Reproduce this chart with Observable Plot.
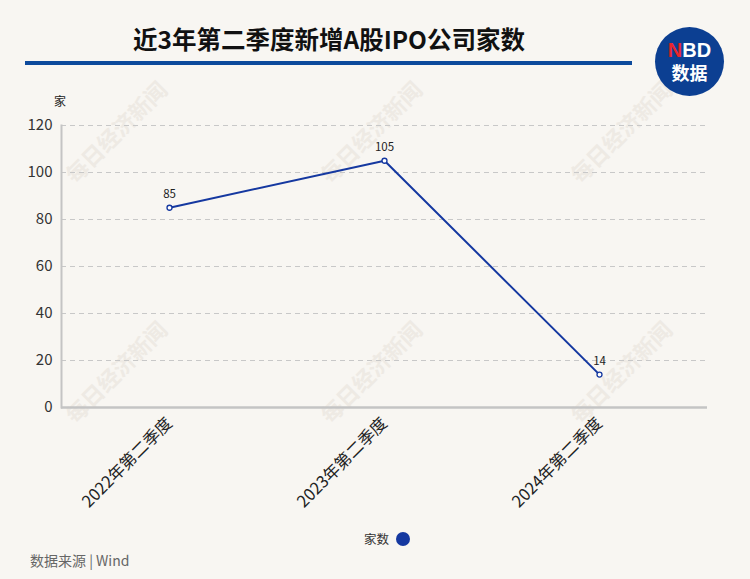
<!DOCTYPE html>
<html><head><meta charset="utf-8">
<script src="https://cdn.jsdelivr.net/npm/d3@7"></script>
<script src="https://cdn.jsdelivr.net/npm/@observablehq/plot@0.6"></script>
<style>
html,body{margin:0;padding:0;background:#f8f6f2;}
#wrap{position:relative;width:750px;height:579px;overflow:hidden;background:#f8f6f2;font-family:"Noto Sans CJK SC","Noto Sans",sans-serif;}
.wm{position:absolute;font-size:22px;font-weight:bold;color:#eeeae4;transform:rotate(-45deg);white-space:nowrap;transform-origin:center;}
#chart{position:absolute;left:0;top:0;}
.abs{position:absolute;}
</style></head>
<body><div id="wrap"></div>
<script>
const categories = ["2022年第二季度","2023年第二季度","2024年第二季度"];
const values = [85,105,14];
const yTicks = [0,20,40,60,80,100,120];
const seriesName = "家数";
const title = "近3年第二季度新增A股IPO公司家数";
const unit = "家";
const source = "数据来源 | Wind";

const data = categories.map((c,i)=>({cat:c, v:values[i]}));
const wrap = document.getElementById("wrap");
const FONT = "Noto Sans CJK SC, Noto Sans, sans-serif";

// watermarks
const wmX = [115,370,620], wmY = [130,370];
for (const y of wmY) for (const x of wmX) {
  const d = document.createElement("div");
  d.className = "wm"; d.textContent = "每日经济新闻";
  d.style.left = (x-66)+"px"; d.style.top = (y-15)+"px";
  wrap.appendChild(d);
}

const blue = "#1538a0";
const chart = Plot.plot({
  width:750, height:579,
  marginTop:125, marginBottom:172, marginLeft:61, marginRight:43,
  style:{background:"transparent", fontFamily:FONT, color:"#333"},
  x:{type:"point", domain:categories, padding:0.5, label:null},
  y:{domain:[0,120], ticks:yTicks, label:null},
  marks:[
    Plot.gridY(yTicks.filter(t=>t>0), {stroke:"#c8c8c8", strokeOpacity:1, strokeDasharray:"5,4"}),
    Plot.axisY({ticks:yTicks, tickSize:0, tickPadding:9, fontSize:15, fill:"#333", label:null, fontFamily:FONT}),
    Plot.axisX({tickSize:0, tickPadding:13, tickRotate:-45, fontSize:16.5, fill:"#222", label:null, fontFamily:FONT}),
    Plot.frame({anchor:"left", stroke:"#c4c4c4", strokeWidth:2}),
    Plot.ruleY([0], {stroke:"#c4c4c4", strokeWidth:2.5}),
    Plot.line(data, {x:"cat", y:"v", stroke:blue, strokeWidth:2}),
    Plot.dot(data, {x:"cat", y:"v", r:2.5, fill:"white", stroke:blue, strokeWidth:1.3}),
    Plot.text(data, {x:"cat", y:"v", text:d=>String(d.v), dy:-13, fontSize:11.5, fill:"#222", fontFamily:FONT})
  ]
});
chart.id = "chart";
wrap.appendChild(chart);

function add(html, css){ const d=document.createElement("div"); d.className="abs"; d.innerHTML=html; Object.assign(d.style, css); wrap.appendChild(d); return d; }

add(title, {left:"0px", width:"658px", top:"22px", textAlign:"center", fontSize:"24.5px", fontWeight:"bold", color:"#111", lineHeight:"34px"});
add("", {left:"25px", top:"61px", width:"607px", height:"4px", background:"#0d4a9c"});
add(unit, {left:"54px", top:"93px", fontSize:"12px", color:"#222", lineHeight:"16px"});
// logo
add("", {left:"655px", top:"27px", width:"69px", height:"69px", borderRadius:"50%", background:"#0c3f92"});
add('<span style="color:#e8262d">N</span><span style="color:#fff">BD</span>',
  {left:"655px", top:"40px", width:"69px", textAlign:"center", fontFamily:"'Liberation Sans',Arial,sans-serif", fontWeight:"bold", fontSize:"20px", lineHeight:"20px"});
add("数据", {left:"655px", top:"62px", width:"69px", textAlign:"center", color:"#fff", fontWeight:"bold", fontSize:"18px", lineHeight:"20px"});
// legend
add(seriesName, {left:"364px", top:"531px", fontSize:"12.5px", color:"#333", lineHeight:"16px"});
add("", {left:"396px", top:"532px", width:"14px", height:"14px", borderRadius:"50%", background:blue});
add(source, {left:"30px", top:"551px", fontSize:"14px", color:"#666", lineHeight:"18px"});
</script></body></html>
